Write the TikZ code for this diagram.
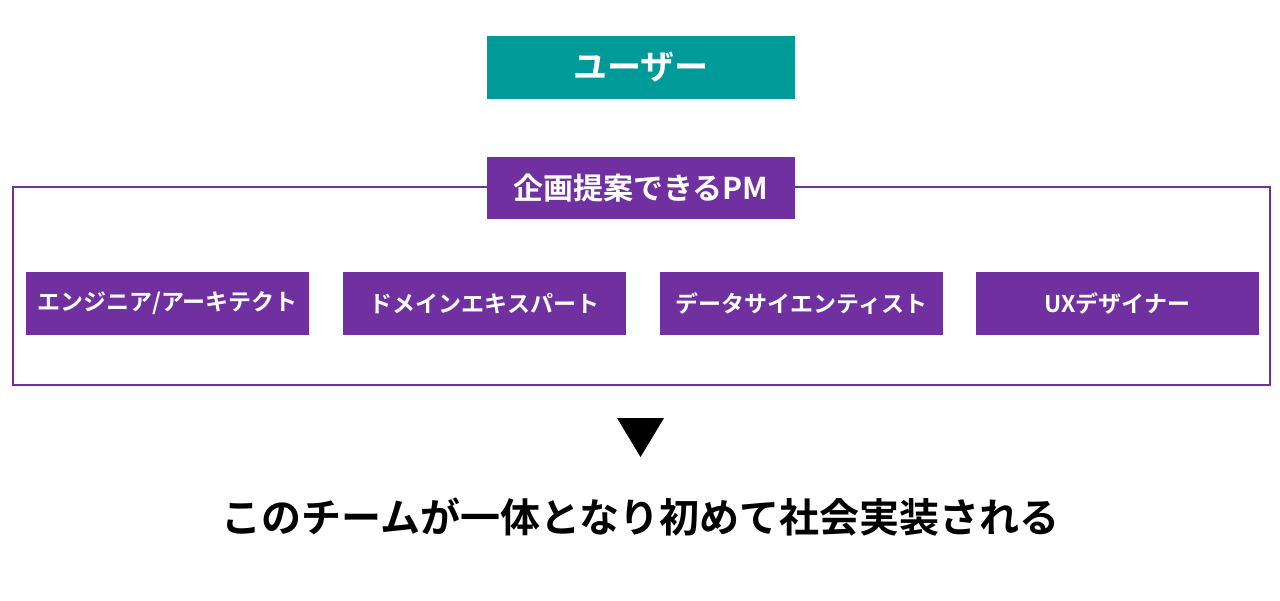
\documentclass[tikz,border=0pt]{standalone}
\usepackage{fontspec}
\newfontfamily\jp{Noto Sans CJK JP Bold}
\definecolor{tealc}{HTML}{009A98}
\definecolor{purp}{HTML}{7030A0}
\begin{document}
\begin{tikzpicture}[x=1pt,y=-1pt,
  box/.style={fill=#1,draw=none,text=white,inner sep=0pt,font=\jp},
  role/.style={box=purp,minimum width=283pt,minimum height=63pt,font=\jp\fontsize{23}{28}\selectfont}]
\useasboundingbox (0,0) rectangle (1280,600);
\node[draw=purp,line width=2pt,minimum width=1257pt,minimum height=198pt,inner sep=0pt] (frame) at (641.5,286) {};
\node[box=tealc,minimum width=308pt,minimum height=63pt,font=\jp\fontsize{34}{40}\selectfont] (user) at (641,67.5) {ユーザー};
\node[box=purp,minimum width=308pt,minimum height=62pt,font=\jp\fontsize{30}{36}\selectfont] (pm) at (641,188) {企画提案できるPM};
\node[role] (r1) at (167.5,303.5) {エンジニア/アーキテクト};
\node[role] (r2) at (484.5,303.5) {ドメインエキスパート};
\node[role] (r3) at (801.5,303.5) {データサイエンティスト};
\node[role] (r4) at (1117.5,303.5) {UXデザイナー};
\fill (617,418) -- (664,418) -- (640.5,457) -- cycle;
\node[font=\jp\fontsize{40}{48}\selectfont,inner sep=0pt] (msg) at (640.5,517) {このチームが一体となり初めて社会実装される};
\end{tikzpicture}
\end{document}
